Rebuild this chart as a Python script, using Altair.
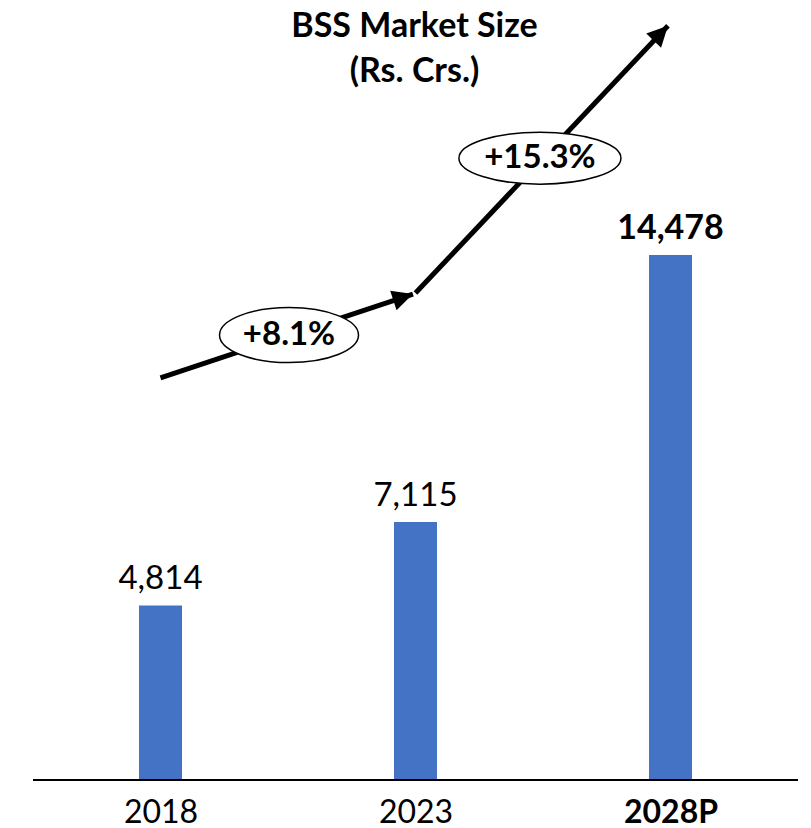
import altair as alt
import pandas as pd

# ---- data ----
years = ["2018", "2023", "2028P"]
values = [4814, 7115, 14478]
value_labels = ["4,814", "7,115", "14,478"]
label_bold = [False, False, True]

# growth arrows (x in bar-index units, y in Rs. Crs.)
arrow_x0 = [0.0, 1.0]
arrow_y0 = [11090, 13430]
arrow_x1 = [0.99, 1.99]
arrow_y1 = [13400, 20800]
arrow_angle = [72, 44]

cagr_labels = ["+8.1%", "+15.3%"]
cagr_x = [0.504, 1.488]
cagr_y = [12270, 17150]

FONT = "Lato"

bars_df = pd.DataFrame({
    "idx": list(range(len(years))),
    "year": years,
    "value": values,
    "label": value_labels,
    "bold": label_bold,
})
arrows_df = pd.DataFrame({
    "x0": arrow_x0, "y0": arrow_y0, "x1": arrow_x1, "y1": arrow_y1, "angle": arrow_angle,
})
ell_paths = [
    "M-69.5,0 A69.5,27.5 0 1,0 69.5,0 A69.5,27.5 0 1,0 -69.5,0 Z",
    "M-81,0 A81,26 0 1,0 81,0 A81,26 0 1,0 -81,0 Z",
]
cagr_df = pd.DataFrame({"x": cagr_x, "y": cagr_y, "label": cagr_labels, "path": ell_paths})
axis_df = pd.DataFrame({"x": [-0.5], "x2": [2.5], "y": [0]})

xscale = alt.Scale(domain=[-0.5, 2.5], nice=False, zero=False)
yscale = alt.Scale(domain=[0, 21511], nice=False)

x_axis = alt.Axis(
    values=[0, 1, 2], ticks=False, grid=False, domain=False, title=None,
    labelExpr="['2018','2023','2028P'][datum.value]",
    labelFontWeight=alt.ExprRef(expr="datum.value == 2 ? 'bold' : 'normal'"),
    labelFontSize=32, labelFont=FONT, labelColor="black", labelPadding=17,
)

base = alt.Chart(bars_df)

bars = base.mark_bar(color="#4472C4", size=43).encode(
    x=alt.X("idx:Q", scale=xscale, axis=x_axis),
    y=alt.Y("value:Q", scale=yscale, axis=None),
    y2=alt.datum(0),
)

val_text_reg = base.transform_filter("!datum.bold").mark_text(
    font=FONT, fontSize=33, baseline="bottom", dy=-9, color="black", fontWeight="normal"
).encode(
    x=alt.X("idx:Q", scale=xscale),
    y=alt.Y("value:Q", scale=yscale),
    text="label:N",
)
val_text_bold = base.transform_filter("datum.bold").mark_text(
    font=FONT, fontSize=34, baseline="bottom", dy=-9, color="black", fontWeight="bold"
).encode(
    x=alt.X("idx:Q", scale=xscale),
    y=alt.Y("value:Q", scale=yscale),
    text="label:N",
)

axis_line = alt.Chart(axis_df).mark_rule(color="black", strokeWidth=2).encode(
    x=alt.X("x:Q", scale=xscale), x2="x2:Q", y=alt.Y("y:Q", scale=yscale),
)

arrow_lines = alt.Chart(arrows_df).mark_rule(color="black", strokeWidth=5).encode(
    x=alt.X("x0:Q", scale=xscale), x2="x1:Q",
    y=alt.Y("y0:Q", scale=yscale), y2="y1:Q",
)

arrow_heads = alt.Chart(arrows_df).mark_point(
    shape="M0,0 L-0.55,1.1 L0.55,1.1 Z", filled=True, color="black", opacity=1, size=1400,
).encode(
    x=alt.X("x1:Q", scale=xscale),
    y=alt.Y("y1:Q", scale=yscale),
    angle=alt.Angle("angle:Q", scale=None),
)

ellipses = alt.Chart(cagr_df).mark_point(
    filled=False, fill="white", fillOpacity=1, stroke="black", strokeWidth=1.5, opacity=1, size=4,
).encode(
    x=alt.X("x:Q", scale=xscale),
    y=alt.Y("y:Q", scale=yscale),
    shape=alt.Shape("path:N", scale=None),
)

cagr_text = alt.Chart(cagr_df).mark_text(font=FONT, fontSize=33, fontWeight="bold", color="black").encode(
    x=alt.X("x:Q", scale=xscale),
    y=alt.Y("y:Q", scale=yscale),
    text="label:N",
)

chart = alt.layer(
    bars, val_text_reg, val_text_bold, axis_line, arrow_lines, arrow_heads, ellipses, cagr_text
).properties(
    width=775, height=780,
    background="white",
    title=alt.TitleParams(
        text=["BSS Market Size", "(Rs. Crs.)"], font=FONT, fontSize=34, fontWeight="bold",
        color="black", anchor="middle", offset=-89, lineHeight=45, dx=-1,
    ),
    autosize=alt.AutoSizeParams(type="none"),
    padding={"left": 28, "top": 0, "right": 8, "bottom": 48},
).configure_view(strokeWidth=0, stroke="transparent")

chart.save("out.html", embed_options={"renderer": "svg", "actions": False})
